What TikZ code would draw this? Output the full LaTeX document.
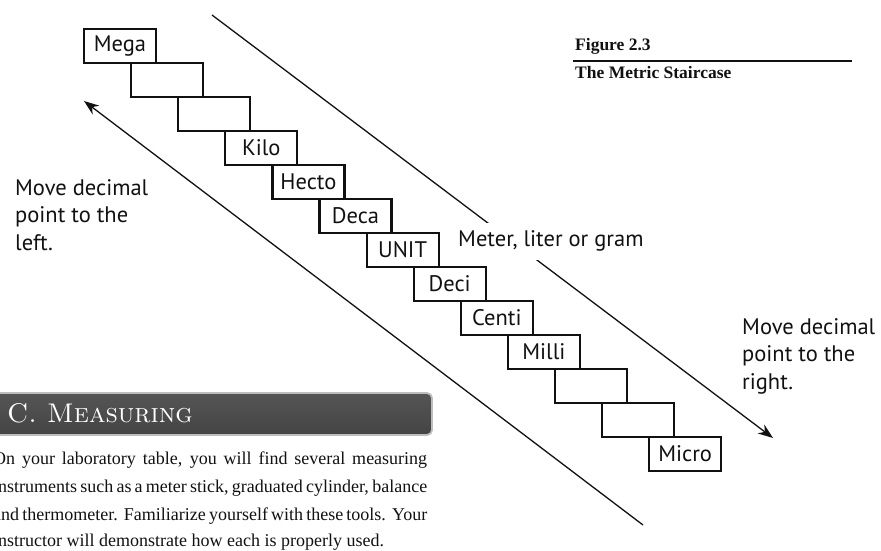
\documentclass[tikz,border=0pt]{standalone}
\usepackage{fontspec}
\usepackage{xcolor}
\usepackage{tikz}
\usetikzlibrary{calc,arrows.meta}
\newfontfamily\sansf{PT Sans}
\newfontfamily\serif{Liberation Serif}
\definecolor{ink}{HTML}{111111}
\definecolor{bartop}{HTML}{555555}
\definecolor{barmid}{HTML}{262626}
\definecolor{barbot}{HTML}{444444}
\definecolor{barline}{HTML}{BEBEBE}
\tikzset{
  stair/.style={draw=ink, line width=2.2pt, minimum width=72pt, minimum height=34pt, inner sep=0pt, font=\sansf\fontsize{22.5}{24}\selectfont},
  guide/.style={draw=ink, line width=1.3pt, -{Stealth[length=15pt,width=11pt]}},
  plain/.style={draw=ink, line width=1.3pt},
  labs/.style={text=ink, font=\sansf\fontsize{22.5}{27.5}\selectfont, align=left, inner sep=0pt, anchor=base west},
  figcap/.style={text=ink, font=\serif\bfseries\fontsize{17.5}{20}\selectfont, inner sep=0pt, anchor=base west},
  body/.style={text=ink, font=\serif\fontsize{18}{27.5}\selectfont, inner sep=0pt, anchor=base west},
  every node/.style={text=ink}
}

\begin{document}
\begin{tikzpicture}[x=1pt,y=-1pt]
  \useasboundingbox (0,0) rectangle (881,551);

  \coordinate (uA) at (212,15);
  \coordinate (uB) at (773,438);
  \coordinate (lA) at (643,525);
  \coordinate (lB) at (84,101);
  \draw[guide] (uA) -- (uB);
  \draw[guide] (lA) -- (lB);

  % the staircase
  \foreach \lab [count=\i from 0] in {Mega,{},{},Kilo,Hecto,Deca,UNIT,Deci,Centi,Milli,{},{},Micro}
    \node[stair] (s\i) at ({120+47.1*\i},{46+34*\i}) {\lab};

  \node[labs, fill=white, inner xsep=3pt, text height=16pt, text depth=6pt, inner ysep=7.5pt] (unit) at (455,246.7) {Meter, liter or gram};
  % base is the last line here
  \node[labs] (left) at (15,250) {Move decimal\\point to the\\left.};
  \node[labs] (right) at (742,389.3) {Move decimal\\point to the\\right.};

  \node[figcap] (fignum) at (575,50.7) {Figure 2.3};
  \coordinate (rl) at (573,61);
  \coordinate (rr) at (852,61);
  \draw[plain] (rl) -- (rr);
  \node[figcap] (figname) at (575,78.3) {The Metric Staircase};

  \shade[top color=bartop, middle color=barmid, bottom color=barbot, draw=barline, line width=1.8pt, rounded corners=5pt] (-10,393) rectangle (432,435);
  \node[anchor=base west, inner sep=0pt, text=white, font=\fontsize{27}{27}\selectfont\scshape] (sechead) at (7,422.3) {C. Measuring};

  \node[body] (p1) at (-7,464.3) {\makebox[434pt][s]{On your laboratory table, you will find several measuring}};
  \node[body] (p2) at (-7,492.7) {\makebox[434pt][s]{instruments such as a meter stick, graduated cylinder, balance}};
  \node[body] (p3) at (-7,520) {\makebox[434pt][s]{and thermometer.\ \ Familiarize yourself with these tools.\ \ Your}};
  \node[body] (p4) at (-7,546.7) {instructor will demonstrate how each is properly used.};
\end{tikzpicture}
\end{document}
